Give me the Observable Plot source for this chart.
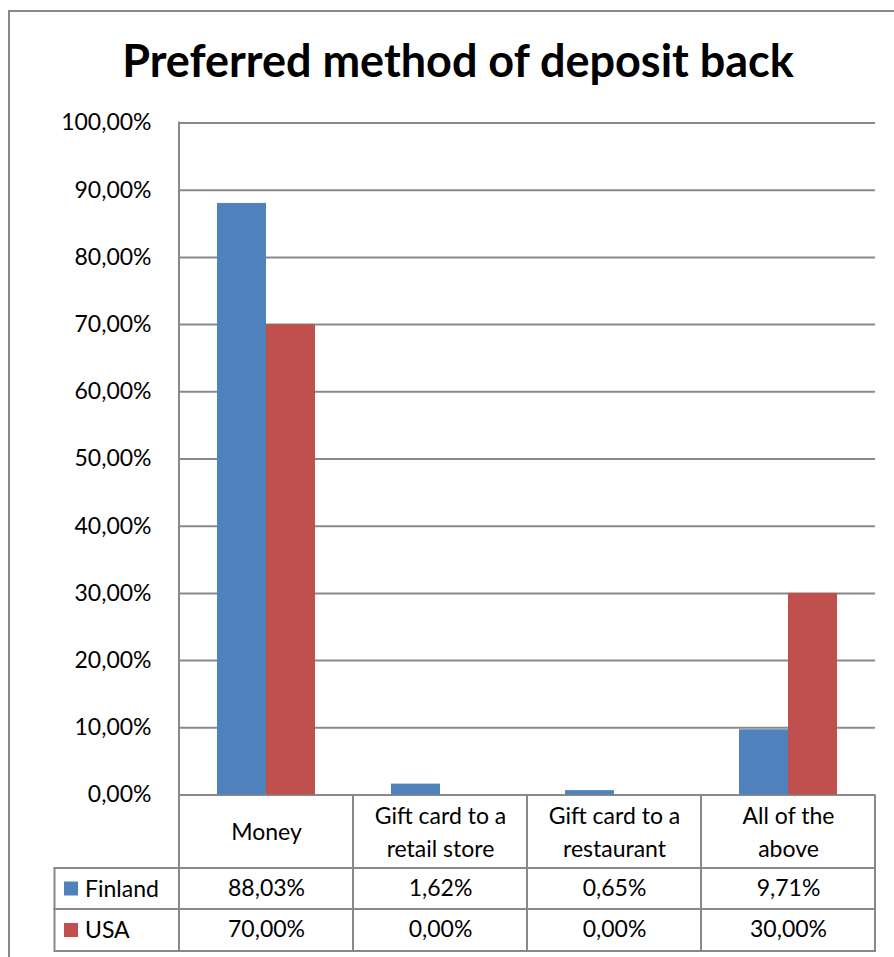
<!DOCTYPE html>
<html>
<head>
<meta charset="utf-8">
<script src="https://cdn.jsdelivr.net/npm/d3@7"></script>
<script src="https://cdn.jsdelivr.net/npm/@observablehq/plot@0.6"></script>
<style>
  html, body { margin: 0; padding: 0; background: #fff; }
  #page { position: relative; width: 894px; height: 957px; overflow: hidden; font-family: Lato, "Open Sans", sans-serif; }
  #frame { position: absolute; left: 8px; top: 10px; width: 1000px; height: 1000px; border-left: 2px solid #898989; border-top: 2px solid #898989; box-sizing: border-box; }
  #title { position: absolute; left: 11px; top: 0; width: 894px; height: 100px; text-align: center; font-weight: 700; font-size: 45px; line-height: 45px; padding-top: 38px; box-sizing: border-box; color: #000; white-space: nowrap; }
  #chart { position: absolute; left: 0; top: 100px; }
</style>
</head>
<body>
<div id="page">
  <div id="frame"></div>
  <div id="title">Preferred method of deposit back</div>
  <div id="chart"></div>
</div>
<script>
const categories = ["Money", "Gift card to a retail store", "Gift card to a restaurant", "All of the above"];
const categoryLabels = ["Money", "Gift card to a\nretail store", "Gift card to a\nrestaurant", "All of the\nabove"];
const series = ["Finland", "USA"];
const finland = [0.8803, 0.0162, 0.0065, 0.0971];
const usa = [0.7000, 0.0000, 0.0000, 0.3000];
const yTicks = [0, 0.1, 0.2, 0.3, 0.4, 0.5, 0.6, 0.7, 0.8, 0.9, 1.0];
const seriesColors = ["#4F81BD", "#C0504D"];

const values = [finland, usa];
const rows = categories.flatMap((c, i) => series.map((s, j) => ({category: c, series: s, value: values[j][i]})));

const locale = d3.formatLocale({decimal: ",", thousands: "\u00a0", grouping: [3], currency: ["", " €"]});
const pct = locale.format(".2%");

const lineColor = "#898989";
const fontSize = 23;

const plot = Plot.plot({
  width: 894,
  height: 857,
  marginLeft: 177,
  marginRight: 18,
  marginTop: 22.5,
  marginBottom: 162.5,
  style: {fontFamily: "Lato, 'Open Sans', sans-serif", fontSize: fontSize + "px", color: "#000", background: "transparent"},
  fx: {domain: categories, padding: 0, axis: null},
  x: {domain: series, paddingInner: 0, paddingOuter: 0.75, axis: null},
  y: {domain: [0, 1], axis: null},
  color: {domain: series, range: seriesColors},
  marks: [
    Plot.gridY(yTicks, {stroke: lineColor, strokeOpacity: 1, strokeWidth: 2}),
    Plot.axisY(yTicks, {tickSize: 0, tickPadding: 28, tickFormat: pct, fontSize: fontSize, fill: "#000", label: null}),
    Plot.barY(rows, {fx: "category", x: "series", y: "value", fill: "series"}),
    Plot.text(categories, {fx: d => d, text: (d, i) => categoryLabels[i], frameAnchor: "bottom", dy: 34.5, lineAnchor: "middle", lineHeight: 1.45, fontSize: fontSize, fill: "#000"}),
    Plot.text(finland, {fx: (d, i) => categories[i], text: d => pct(d), frameAnchor: "bottom", dy: 93.5, lineAnchor: "middle", fontSize: fontSize, fill: "#000"}),
    Plot.text(usa, {fx: (d, i) => categories[i], text: d => pct(d), frameAnchor: "bottom", dy: 135, lineAnchor: "middle", fontSize: fontSize, fill: "#000"})
  ]
});

document.getElementById("chart").appendChild(plot);

// Data table grid and legend keys, positioned from Plot's own scales
const fx = plot.scale("fx"), y = plot.scale("y"), color = plot.scale("color");
const xs = categories.map(c => fx.apply(c));
xs.push(xs[xs.length - 1] + fx.bandwidth);
const yTop = y.apply(1), y0 = y.apply(0);
const r1 = y0 + 73.5, r2 = y0 + 114.5, r3 = y0 + 156.5;
const tableLeft = 54.5;

const g = d3.select(plot).append("g").attr("stroke", lineColor).attr("stroke-width", 2).attr("fill", "none");
g.append("line").attr("x1", xs[0]).attr("x2", xs[0]).attr("y1", yTop - 1).attr("y2", r3);
xs.slice(1).forEach(x => g.append("line").attr("x1", x).attr("x2", x).attr("y1", y0).attr("y2", r3));
g.append("line").attr("x1", tableLeft).attr("x2", tableLeft).attr("y1", r1).attr("y2", r3);
[r1, r2, r3].forEach(r => g.append("line").attr("x1", tableLeft - 1).attr("x2", xs[xs.length - 1] + 1).attr("y1", r).attr("y2", r));

const rowCenters = [(r1 + r2) / 2, (r2 + r3) / 2];
const lg = d3.select(plot).append("g").attr("text-anchor", "start");
series.forEach((s, i) => {
  lg.append("rect").attr("x", 64).attr("y", rowCenters[i] - 7).attr("width", 14).attr("height", 14).attr("fill", color.apply(s));
  lg.append("text").attr("x", 85).attr("y", rowCenters[i]).attr("dy", "0.35em").attr("font-size", fontSize).attr("fill", "#000").text(s);
});
</script>
</body>
</html>
